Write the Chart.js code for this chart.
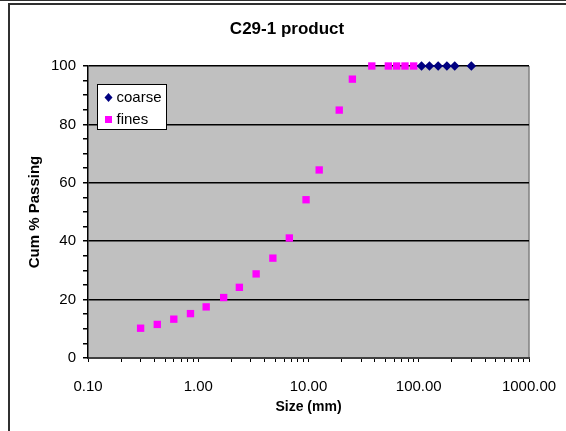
<!DOCTYPE html>
<html>
<head>
<meta charset="utf-8">
<script src="https://cdn.jsdelivr.net/npm/chart.js@4/dist/chart.umd.min.js"></script>
<style>
  html, body { margin: 0; padding: 0; background: #ffffff; }
  #wrap { position: relative; width: 566px; height: 431px; }
</style>
</head>
<body>
<div id="wrap"><canvas id="c" width="566" height="431"></canvas></div>
<script>
// ---- data ----
const chartTitle = "C29-1 product";
const xAxisTitle = "Size (mm)";
const yAxisTitle = "Cum % Passing";

const coarseLabel = "coarse";
const coarseSize = [106, 125, 150, 180, 212, 300];
const coarsePassing = [100, 100, 100, 100, 100, 100];

const finesLabel = "fines";
const finesSize = [0.3, 0.425, 0.6, 0.85, 1.18, 1.7, 2.36, 3.35, 4.75, 6.7, 9.5, 12.5, 19, 25, 37.5, 53, 63, 75, 90];
const finesPassing = [10.2, 11.5, 13.3, 15.2, 17.5, 20.7, 24.2, 28.8, 34.2, 41.1, 54.2, 64.4, 84.9, 95.5, 100, 100, 100, 100, 100];

const xMajorTicks = [0.1, 1, 10, 100, 1000];
const yMin = 0, yMax = 100, yLabelStep = 20, yMinorStep = 5;

const FONT = "'Liberation Sans', Arial, sans-serif";

function pairs(xs, ys) { return xs.map((x, i) => ({ x: x, y: ys[i] })); }

// frame + plot background + chart title
const framePlugin = {
  id: 'frame',
  beforeDraw(chart) {
    const ctx = chart.ctx, a = chart.chartArea;
    ctx.save();
    ctx.fillStyle = '#ffffff';
    ctx.fillRect(0, 0, chart.width, chart.height);
    ctx.strokeStyle = '#303030';
    ctx.lineWidth = 1;
    ctx.beginPath(); ctx.moveTo(0, 0.5); ctx.lineTo(chart.width, 0.5); ctx.stroke();
    ctx.lineWidth = 2;
    ctx.beginPath(); ctx.moveTo(8, 4); ctx.lineTo(chart.width, 4); ctx.stroke();
    ctx.beginPath(); ctx.moveTo(9, 3); ctx.lineTo(9, chart.height); ctx.stroke();
    ctx.fillStyle = '#C0C0C0';
    ctx.fillRect(a.left, a.top, a.right - a.left, a.bottom - a.top);
    ctx.strokeStyle = '#808080';
    ctx.lineWidth = 1.5;
    ctx.beginPath(); ctx.moveTo(a.right, a.top); ctx.lineTo(a.right, a.bottom); ctx.stroke();
    // title
    ctx.fillStyle = '#000000';
    ctx.font = 'bold 17px ' + FONT;
    ctx.textAlign = 'center';
    ctx.textBaseline = 'middle';
    ctx.fillText(chartTitle, 287, 29);
    ctx.restore();
  }
};

// legend box inside plot area
const boxLegend = {
  id: 'boxLegend',
  afterDatasetsDraw(chart) {
    const ctx = chart.ctx, a = chart.chartArea;
    const bx = a.left + 9.5, by = a.top + 18.5, bw = 69, bh = 45;
    ctx.save();
    ctx.fillStyle = '#ffffff';
    ctx.fillRect(bx, by, bw, bh);
    ctx.strokeStyle = '#000000';
    ctx.lineWidth = 1;
    ctx.strokeRect(bx, by, bw, bh);
    ctx.font = '15px ' + FONT;
    ctx.textBaseline = 'middle';
    chart.data.datasets.forEach((ds, i) => {
      const cy = by + 13 + i * 22;
      const cx = bx + 11;
      ctx.fillStyle = ds.backgroundColor;
      if (ds.pointStyle === 'rectRot') {
        ctx.beginPath();
        ctx.moveTo(cx, cy - 4.5); ctx.lineTo(cx + 4, cy); ctx.lineTo(cx, cy + 4.5); ctx.lineTo(cx - 4, cy); ctx.closePath();
        ctx.fill();
      } else {
        ctx.fillRect(cx - 3.5, cy - 3.5, 7, 7);
      }
      ctx.fillStyle = '#000000';
      ctx.fillText(ds.label, bx + 19, cy);
    });
    ctx.restore();
  }
};

new Chart(document.getElementById('c'), {
  type: 'scatter',
  data: {
    datasets: [
      {
        label: coarseLabel,
        data: pairs(coarseSize, coarsePassing),
        pointStyle: 'rectRot',
        radius: 4.8,
        backgroundColor: '#000080',
        borderColor: '#000080',
        borderWidth: 0,
        showLine: false,
        clip: false
      },
      {
        label: finesLabel,
        data: pairs(finesSize, finesPassing),
        pointStyle: 'rect',
        radius: 5.2,
        backgroundColor: '#FF00FF',
        borderColor: '#FF00FF',
        borderWidth: 0,
        showLine: false,
        clip: false
      }
    ]
  },
  options: {
    responsive: false,
    animation: false,
    devicePixelRatio: 1,
    layout: { padding: { left: 10, right: 37, top: 66, bottom: 13 } },
    plugins: {
      legend: { display: false },
      tooltip: { enabled: false },
      title: { display: false }
    },
    scales: {
      x: {
        type: 'logarithmic',
        min: xMajorTicks[0],
        max: xMajorTicks[xMajorTicks.length - 1],
        afterBuildTicks(scale) {
          const t = [];
          for (let i = 0; i < xMajorTicks.length; i++) {
            const d = xMajorTicks[i];
            t.push({ value: d, major: true });
            if (i < xMajorTicks.length - 1) {
              for (let k = 2; k <= 9; k++) t.push({ value: d * k, major: false });
            }
          }
          scale.ticks = t;
        },
        afterFit(scale) {
          scale.height = 60;
          scale.paddingLeft = 0;
          scale.paddingRight = 0;
        },
        ticks: {
          autoSkip: false,
          maxRotation: 0,
          padding: 16,
          color: '#000000',
          font: { family: FONT, size: 15 },
          callback(value, index, ticks) {
            return ticks[index].major ? Number(value).toFixed(2) : '';
          }
        },
        grid: {
          drawOnChartArea: false,
          drawTicks: true,
          tickLength: 4,
          tickColor: '#000000',
          tickWidth: 1
        },
        border: { display: true, color: '#404040', width: 2 },
        title: {
          display: true,
          text: xAxisTitle,
          color: '#000000',
          font: { family: FONT, size: 14, weight: 'bold' },
          padding: { top: 0, bottom: 2 }
        }
      },
      y: {
        type: 'linear',
        min: yMin,
        max: yMax,
        afterFit(scale) {
          scale.width = 78;
          scale.paddingTop = 0;
          scale.paddingBottom = 0;
        },
        ticks: {
          stepSize: yMinorStep,
          autoSkip: false,
          padding: 7,
          color: '#000000',
          font: { family: FONT, size: 15 },
          callback(value) { return value % yLabelStep === 0 ? value : ''; }
        },
        grid: {
          drawTicks: true,
          tickLength: 5,
          tickColor: '#000000',
          lineWidth: 1.5,
          color(ctx) {
            const v = ctx.tick ? ctx.tick.value : null;
            return (v !== null && v % yLabelStep === 0 && v > yMin) ? '#000000' : 'rgba(0,0,0,0)';
          }
        },
        border: { display: true, color: '#000000', width: 1.5 },
        title: {
          display: true,
          text: yAxisTitle,
          color: '#000000',
          font: { family: FONT, size: 15, weight: 'bold' },
          padding: { top: 16, bottom: 0 }
        }
      }
    }
  },
  plugins: [framePlugin, boxLegend]
});
</script>
</body>
</html>
